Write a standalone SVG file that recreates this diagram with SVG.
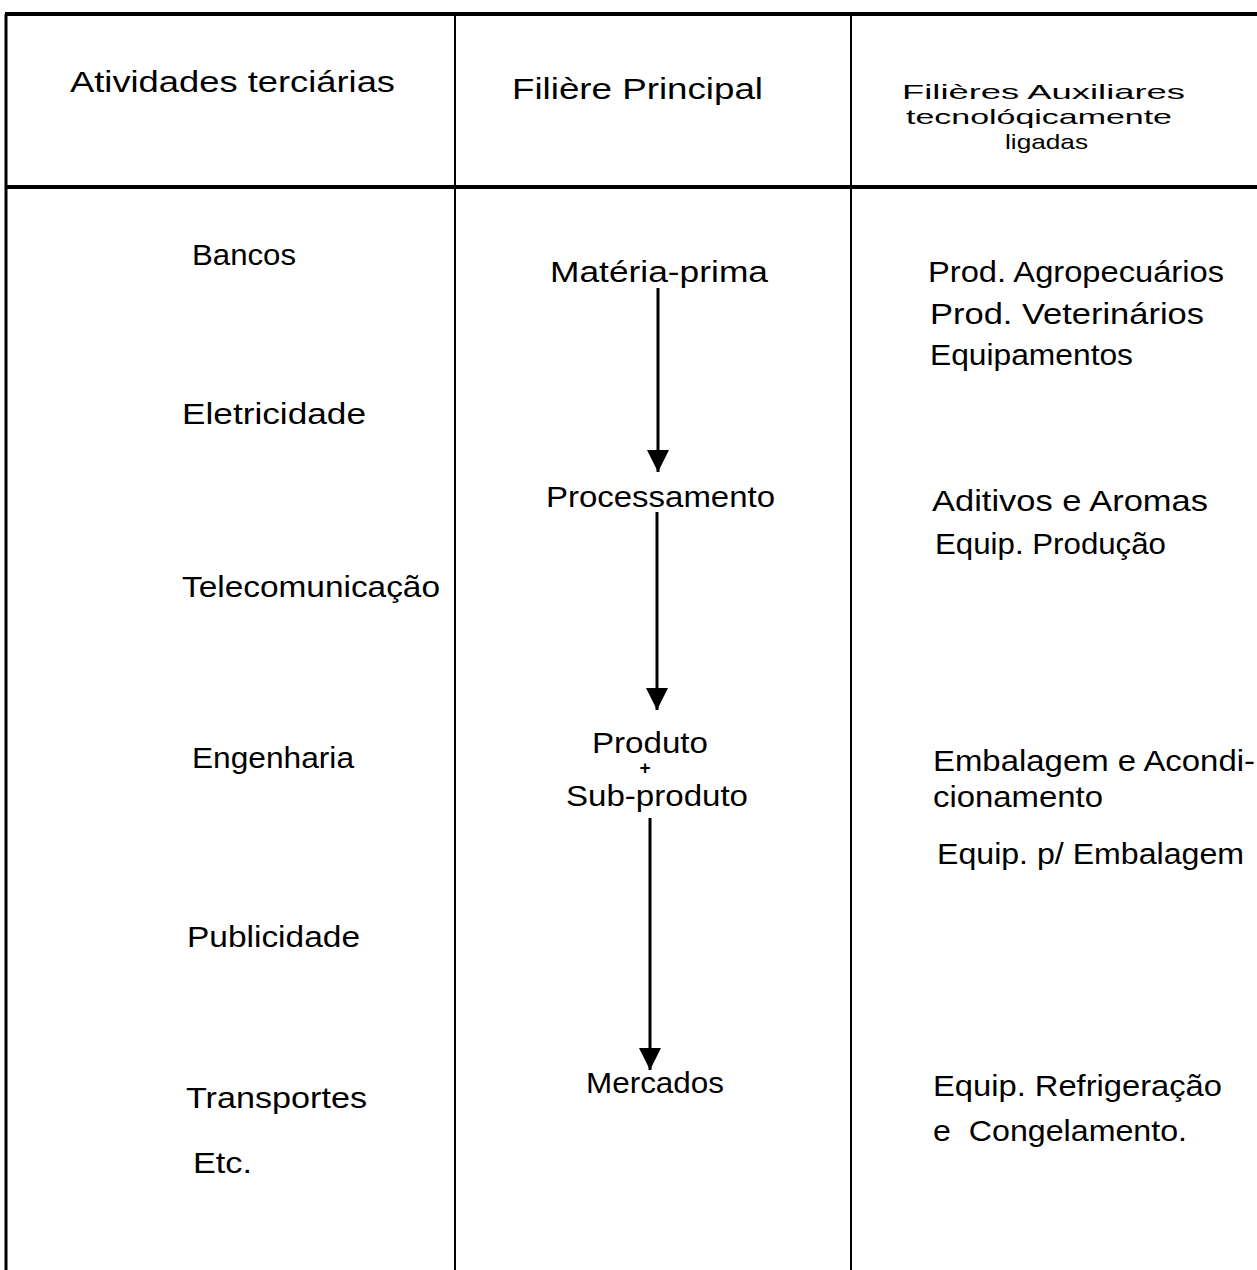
<svg xmlns="http://www.w3.org/2000/svg" width="1257" height="1270" viewBox="0 0 1257 1270">
<style>
text{font-family:"Liberation Sans","DejaVu Sans",sans-serif;font-size:30px;fill:#000}
.hd{font-size:29px}
.hs{font-size:21px}
.grid{stroke:#000;fill:none}
.conn{stroke:#000;stroke-width:3;fill:none}
</style>
<defs>
<marker id="ah" viewBox="0 0 10 10" refX="10" refY="5" markerWidth="22" markerHeight="22" markerUnits="userSpaceOnUse" orient="auto">
<path d="M0,0 L10,5 L0,10 z" fill="#000"/>
</marker>
</defs>
<rect width="1257" height="1270" fill="#fff"/>
<g id="table">
<line class="grid" x1="5" y1="14" x2="1257" y2="14" stroke-width="4"/>
<line class="grid" x1="5" y1="187" x2="1257" y2="187" stroke-width="4"/>
<line class="grid" x1="6" y1="14" x2="6" y2="1270" stroke-width="3"/>
<line class="grid" x1="455" y1="14" x2="455" y2="1270" stroke-width="2"/>
<line class="grid" x1="851" y1="14" x2="851" y2="1270" stroke-width="2"/>
</g>
<g id="headers">
<text class="hd" x="70" y="92" textLength="325" lengthAdjust="spacingAndGlyphs">Atividades terciárias</text>
<text class="hd" x="512" y="99" textLength="251" lengthAdjust="spacingAndGlyphs">Filière Principal</text>
<text class="hs" x="902" y="99" textLength="283" lengthAdjust="spacingAndGlyphs">Filières Auxiliares</text>
<text class="hs" x="906" y="124" textLength="266" lengthAdjust="spacingAndGlyphs">tecnolóqicamente</text>
<text class="hs" x="1005" y="149" textLength="83" lengthAdjust="spacingAndGlyphs">ligadas</text>
</g>
<g id="col1">
<text x="192" y="265" textLength="104" lengthAdjust="spacingAndGlyphs">Bancos</text>
<text x="182" y="424" textLength="184" lengthAdjust="spacingAndGlyphs">Eletricidade</text>
<text x="182" y="597" textLength="258" lengthAdjust="spacingAndGlyphs">Telecomunicação</text>
<text x="192" y="768" textLength="162" lengthAdjust="spacingAndGlyphs">Engenharia</text>
<text x="187" y="947" textLength="173" lengthAdjust="spacingAndGlyphs">Publicidade</text>
<text x="186" y="1108" textLength="181" lengthAdjust="spacingAndGlyphs">Transportes</text>
<text x="193" y="1173" textLength="59" lengthAdjust="spacingAndGlyphs">Etc.</text>
</g>
<g id="n-materia"><text x="550" y="282" textLength="218" lengthAdjust="spacingAndGlyphs">Matéria-prima</text></g>
<g id="n-process"><text x="546" y="507" textLength="229" lengthAdjust="spacingAndGlyphs">Processamento</text></g>
<g id="n-produto">
<text x="592" y="753" textLength="116" lengthAdjust="spacingAndGlyphs">Produto</text>
<text x="645" y="774" style="font-size:19px;font-weight:bold" text-anchor="middle">+</text>
<text x="566" y="806" textLength="182" lengthAdjust="spacingAndGlyphs">Sub-produto</text>
</g>
<g id="n-mercados"><text x="586" y="1093" textLength="138" lengthAdjust="spacingAndGlyphs">Mercados</text></g>
<g id="col3">
<text x="928" y="282" textLength="296" lengthAdjust="spacingAndGlyphs">Prod. Agropecuários</text>
<text x="930" y="324" textLength="274" lengthAdjust="spacingAndGlyphs">Prod. Veterinários</text>
<text x="930" y="365" textLength="203" lengthAdjust="spacingAndGlyphs">Equipamentos</text>
<text x="932" y="511" textLength="276" lengthAdjust="spacingAndGlyphs">Aditivos e Aromas</text>
<text x="935" y="554" textLength="231" lengthAdjust="spacingAndGlyphs">Equip. Produção</text>
<text x="933" y="771" textLength="322" lengthAdjust="spacingAndGlyphs">Embalagem e Acondi-</text>
<text x="933" y="807" textLength="170" lengthAdjust="spacingAndGlyphs">cionamento</text>
<text x="937" y="864" textLength="307" lengthAdjust="spacingAndGlyphs">Equip. p/ Embalagem</text>
<text x="933" y="1096" textLength="289" lengthAdjust="spacingAndGlyphs">Equip. Refrigeração</text>
<text x="933" y="1141" textLength="254" lengthAdjust="spacingAndGlyphs" style="white-space:pre">e  Congelamento.</text>
</g>
<g id="connectors">
<line class="conn" x1="658" y1="288" x2="658" y2="472" marker-end="url(#ah)"/>
<line class="conn" x1="657" y1="512" x2="657" y2="710" marker-end="url(#ah)"/>
<line class="conn" x1="650" y1="818" x2="650" y2="1070" marker-end="url(#ah)"/>
</g>
</svg>
